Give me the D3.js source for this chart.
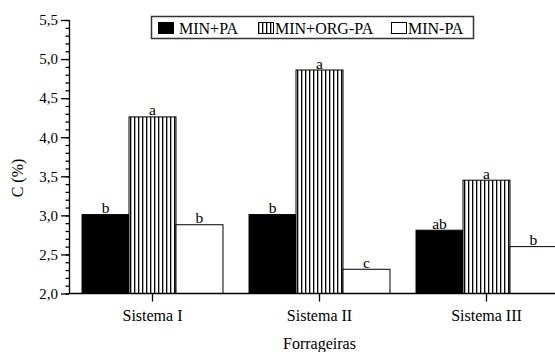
<!DOCTYPE html>
<html>
<head>
<meta charset="utf-8">
<script src="https://cdn.jsdelivr.net/npm/d3@7"></script>
<style>
  html, body { margin: 0; padding: 0; background: #fff; }
  svg { display: block; font-family: "Liberation Serif", "Times New Roman", serif; }
</style>
</head>
<body>
<div id="chart"></div>
<script>
  const systems = ["Sistema I", "Sistema II", "Sistema III"];
  const treatments = ["MIN+PA", "MIN+ORG-PA", "MIN-PA"];
  const minPa = [3.01, 3.01, 2.81];
  const minOrgPa = [4.26, 4.86, 3.45];
  const minNoPa = [2.88, 2.31, 2.60];
  const letters = [["b", "a", "b"], ["b", "a", "c"], ["ab", "a", "b"]];
  const yTicks = [2.0, 2.5, 3.0, 3.5, 4.0, 4.5, 5.0, 5.5];

  const width = 555;
  const height = 352;
  const plotLeft = 69;
  const plotBottom = 293.5;
  const plotTop = 20;

  const svg = d3.select("#chart")
    .append("svg")
    .attr("width", width)
    .attr("height", height);

  const defs = svg.append("defs");
  const stripes = defs.append("pattern")
    .attr("id", "stripes")
    .attr("width", 4)
    .attr("height", 4)
    .attr("patternUnits", "userSpaceOnUse");
  stripes.append("rect").attr("width", 4).attr("height", 4).attr("fill", "#fff");
  stripes.append("rect").attr("x", 0).attr("width", 1.3).attr("height", 4).attr("fill", "#000");

  const fills = ["#000", "url(#stripes)", "#fff"];

  const x0 = d3.scaleBand()
    .domain(systems)
    .range([plotLeft, plotLeft + 501])
    .paddingInner(0.156)
    .paddingOuter(0.078);

  const x1 = d3.scaleBand()
    .domain(treatments)
    .range([0, x0.bandwidth()]);

  const y = d3.scaleLinear()
    .domain([2, 5.5])
    .range([plotBottom, plotTop]);

  const rows = systems.map((name, i) => ({
    name,
    values: [minPa[i], minOrgPa[i], minNoPa[i]].map((v, j) => ({
      key: treatments[j], value: v, letter: letters[i][j], fill: fills[j]
    }))
  }));

  const groups = svg.append("g")
    .selectAll("g")
    .data(rows)
    .join("g")
    .attr("transform", (d) => `translate(${x0(d.name)},0)`);

  groups.selectAll("rect")
    .data((d) => d.values)
    .join("rect")
    .attr("x", (d) => x1(d.key))
    .attr("y", (d) => y(d.value))
    .attr("width", x1.bandwidth())
    .attr("height", (d) => y(2) - y(d.value))
    .attr("fill", (d) => d.fill)
    .attr("stroke", "#000")
    .attr("stroke-width", 1);

  groups.selectAll("text")
    .data((d) => d.values)
    .join("text")
    .attr("x", (d) => x1(d.key) + x1.bandwidth() / 2)
    .attr("y", (d) => y(d.value) - 1.5)
    .attr("text-anchor", "middle")
    .attr("font-size", 15.5)
    .text((d) => d.letter);

  // y axis with minor ticks
  const yAxis = svg.append("g")
    .attr("transform", `translate(${plotLeft},0)`);

  yAxis.append("g")
    .call(d3.axisLeft(y).tickValues(d3.range(20, 56).map((v) => v / 10)).tickSize(3.5).tickFormat(""))
    .call((g) => g.select(".domain").remove());

  yAxis.append("g")
    .call(d3.axisLeft(y).tickValues(yTicks).tickSize(8).tickPadding(3)
      .tickFormat((d) => d3.format(".1f")(d).replace(".", ",")))
    .call((g) => g.selectAll("text").attr("font-size", 15).attr("font-family", "Liberation Serif"))
    .call((g) => g.select(".domain").attr("d", `M0.5,${plotTop}V${plotBottom}`));

  yAxis.selectAll("line, path").attr("stroke", "#000").attr("stroke-width", 1.3);

  // x axis
  svg.append("line")
    .attr("x1", plotLeft)
    .attr("x2", width)
    .attr("y1", plotBottom)
    .attr("y2", plotBottom)
    .attr("stroke", "#000")
    .attr("stroke-width", 1.5);

  const xAxis = svg.append("g")
    .attr("transform", `translate(0,${plotBottom})`)
    .call(d3.axisBottom(x0).tickSize(8).tickPadding(8))
    .call((g) => g.select(".domain").remove());
  xAxis.selectAll("line").attr("stroke", "#000").attr("stroke-width", 1.3);
  xAxis.selectAll("text").attr("font-size", 16).attr("font-family", "Liberation Serif");

  svg.append("text")
    .attr("x", (x0("Sistema II") + x0.bandwidth() / 2))
    .attr("y", 349)
    .attr("text-anchor", "middle")
    .attr("font-size", 16)
    .text("Forrageiras");

  svg.append("text")
    .attr("transform", "translate(23,178) rotate(-90)")
    .attr("text-anchor", "middle")
    .attr("font-size", 16)
    .text("C (%)");

  // legend
  const legend = svg.append("g");
  legend.append("rect")
    .attr("x", 151.5)
    .attr("y", 16.5)
    .attr("width", 322)
    .attr("height", 22)
    .attr("fill", "#fff")
    .attr("stroke", "#333")
    .attr("stroke-width", 1.5);

  const legendX = [158, 258, 391];
  const legendItems = legend.selectAll("g")
    .data(treatments)
    .join("g")
    .attr("transform", (d, i) => `translate(${legendX[i]},0)`);

  legendItems.append("rect")
    .attr("x", 0.5)
    .attr("y", 22.5)
    .attr("width", 15)
    .attr("height", 11)
    .attr("fill", (d, i) => fills[i])
    .attr("stroke", "#000")
    .attr("stroke-width", 1);

  legendItems.append("text")
    .attr("x", (d, i) => i === 0 ? 21 : 17)
    .attr("y", 34)
    .attr("font-size", 16)
    .text((d) => d);
</script>
</body>
</html>
